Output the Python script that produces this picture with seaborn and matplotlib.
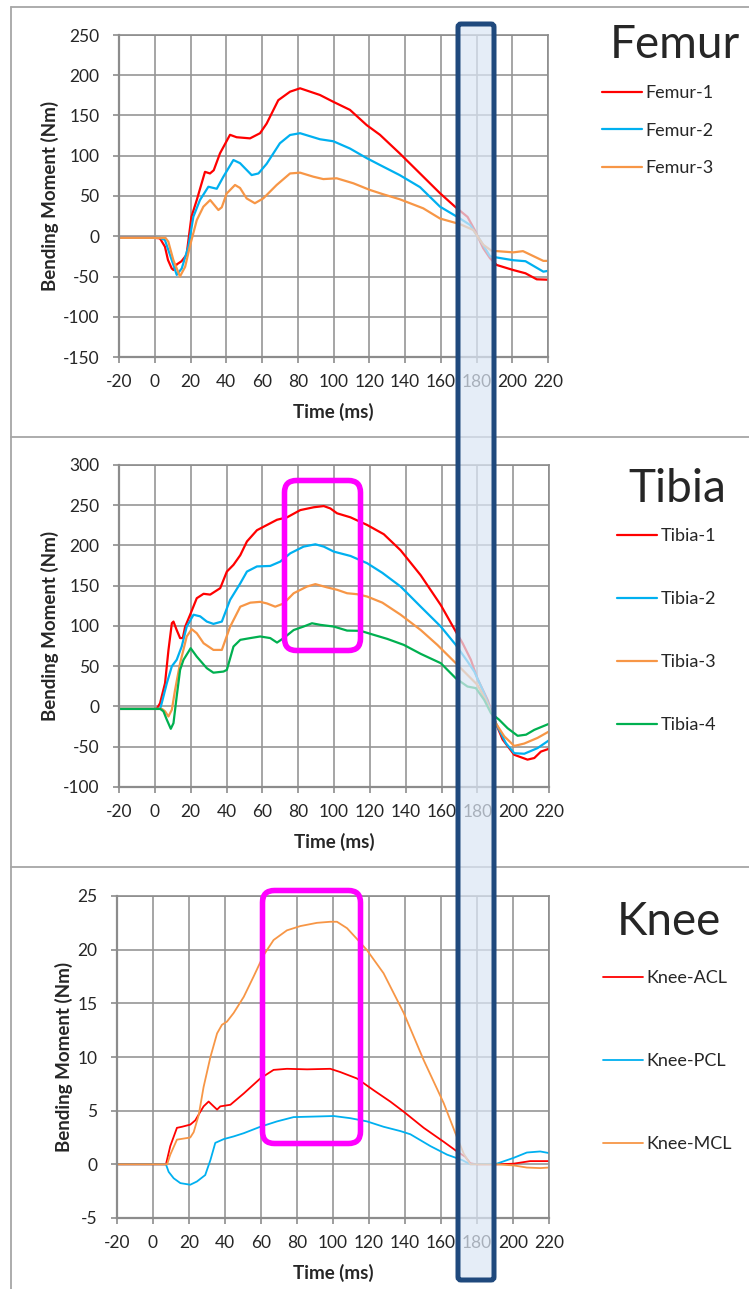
import matplotlib
matplotlib.use('Agg')
import matplotlib.pyplot as plt
import seaborn as sns
from matplotlib.patches import FancyBboxPatch
from matplotlib.lines import Line2D

# ---- data ----
femur_labels = ['Femur-1', 'Femur-2', 'Femur-3']
femur_t = [
    [-20, 0, 2.9, 5.7, 7.4, 9.5, 10.5, 12.3, 15, 17.8, 20.5, 23.5, 28.1, 30.9, 33, 36.5, 42.1, 45.8, 53.3, 58.9,
     62.6, 69.1, 75.7, 81.3, 92.4, 99.9, 109.2, 118.6, 126, 137, 148.4, 159.6, 168, 175, 179, 183.8, 187.6, 191.3,
     200.6, 207.4, 213.7, 220],
    [-20, 3, 5.7, 9.5, 12.3, 15.1, 18.8, 21.6, 25.3, 30, 34.7, 38.4, 44, 47.7, 54.2, 58, 62.6, 70, 75.7, 81.3, 92.4,
     99.9, 109.2, 118.6, 126, 137, 148.4, 159.6, 170.8, 176.4, 182, 187.6, 193, 200.6, 207.4, 217.4, 220],
    [-20, 6, 7.6, 10.4, 14.1, 17, 19.6, 23.5, 27.2, 31, 35.6, 37.5, 40.2, 44.9, 47.7, 51.4, 56, 60.7, 68.2, 75.7,
     81.3, 88.7, 94.3, 101.8, 111.1, 120.4, 128, 137, 150.2, 159.6, 170.8, 178.2, 183.8, 188.4, 200.6, 206, 217.4, 220],
]
femur_v = [
    [-2, -2, -2.6, -13, -29.5, -40, -42, -35, -31, -23, 24, 45, 80, 78, 82, 103, 126, 123, 121.6, 128,
     140, 169, 179.6, 183.8, 175.5, 167, 157, 138, 126, 103, 78, 53.4, 36.7, 24, 7.8, -15, -27.4, -35.7,
     -42, -46, -53.5, -54],
    [-2, -2, -4.7, -29.5, -48, -40, -13, 24.3, 45, 61.5, 59, 74, 94.7, 90.8, 76, 78, 90, 115.5, 125.8, 128, 120.5,
     118, 109, 97, 88.5, 76, 61, 36.7, 22, 14, -4.7, -25, -27, -29.8, -31, -44, -43],
    [-2, -2, -6.8, -29.5, -50, -38, -13, 20, 36.7, 45, 32.6, 36, 53, 63.7, 60, 47, 41, 47, 63.7, 78,
     79, 74, 71, 72, 65.8, 57.5, 52, 46, 34.7, 22, 15, 7.8, -10.6, -18, -20, -18.5, -30.6, -30.6],
]

tibia_labels = ['Tibia-1', 'Tibia-2', 'Tibia-3', 'Tibia-4']
tibia_t = [
    [-20, 1, 2.9, 5.7, 7.6, 9.5, 10.4, 12.2, 14.1, 15.6, 16.9, 19.7, 23.4, 27.2, 30.9, 36.5, 40.2, 43.9, 47.7, 51.4,
     57, 62.6, 68.2, 73.8, 81.2, 88.7, 94.3, 98, 101.7, 109.2, 118.5, 127.8, 137.2, 148.4, 159.6, 168, 171.8, 176.4,
     180, 185.7, 190.3, 194.1, 200.6, 208, 211.8, 215.5, 220],
    [-20, 3, 4.8, 6.7, 9.5, 12.2, 15, 17.8, 21.6, 25.3, 29, 32.7, 37.4, 42, 47.7, 51.4, 57, 64.4, 70, 75.6, 83, 89.6,
     94.3, 99.9, 109.2, 118.5, 127, 137.2, 148.4, 159.6, 168, 174.5, 178.3, 183.8, 190.3, 195.9, 200.6, 206.2,
     213.6, 220],
    [-20, 4, 5.7, 7.6, 9.5, 11.3, 14.1, 17.8, 20.6, 23.4, 27.2, 32.7, 37.4, 42, 47.7, 53.3, 58.8, 62.6, 67.2, 71.9,
     77.5, 84.9, 89.6, 96.1, 101.7, 107.3, 112.9, 118.5, 127, 137.2, 148.4, 157.7, 168, 175.5, 180, 184.7, 190.3,
     195, 200.6, 206.2, 213.6, 220],
    [-20, 3, 4.8, 6.7, 8.9, 10.4, 12.2, 14.1, 16, 20, 23.4, 29, 32.7, 38.3, 40.2, 43.9, 47.7, 53.3, 58.8, 64.4, 68.2,
     71.9, 77.5, 83, 87.7, 92.4, 99.9, 107.3, 114.8, 122.2, 129.7, 139, 148.4, 159.6, 168, 174.5, 179.2, 183.8,
     187.6, 192.2, 196.9, 202.5, 207.2, 211.8, 220],
]
tibia_v = [
    [-3, -3, 4, 29, 70, 103.5, 105.5, 95, 85, 85, 99, 114, 134.5, 140, 139, 147, 167.6, 176, 188, 205,
     219, 225.5, 232, 235, 244, 247.5, 249, 246, 240, 235, 225.5, 214, 194, 163, 126, 93, 78.6, 58,
     35, 8.3, -20.7, -41, -60, -66, -64, -56, -52.5],
    [-3, -3, 12.4, 29, 50, 58, 74.5, 99.3, 114, 112, 105.5, 102.6, 105.5, 132.4, 153, 167.6, 174, 174.6, 180, 190.3,
     198.6, 201.5, 198.6, 192.4, 187, 178, 166, 149, 124, 99.3, 76.5, 56, 43.4, 16.5, -20.7, -45.5, -58, -58.7,
     -51.7, -42],
    [-3, -3, -6, -12.4, -4, 20.7, 53.8, 87, 96, 91, 78.6, 70.3, 70.3, 99, 124, 129, 130, 128, 124, 128,
     140.7, 149, 152, 148, 145, 140.7, 139.5, 136.6, 129, 114, 95, 76.5, 53.8, 37, 27, 8.3, -20.7,
     -37, -49, -46, -39, -31],
    [-3, -3, -6, -16.5, -27.7, -20.7, 12.4, 45.5, 58, 72.4, 62, 47.6, 42, 43.4, 45.5, 74.5, 82.8, 85, 87, 85, 79.4,
     85, 95, 99.3, 103.4, 101.4, 99.3, 94.3, 94, 89, 84, 76.5, 65.4, 53.8, 35, 24.8, 22.8, 8.3,
     -8.3, -16.5, -27, -36.4, -35, -29, -21.5],
]

knee_labels = ['Knee-ACL', 'Knee-PCL', 'Knee-MCL']
knee_t = [
    [-20, 7.2, 9.6, 13.3, 16.1, 20.7, 23.5, 26.3, 28.1, 30.9, 33.7, 35.6, 37.4, 43, 50.4, 59.6, 67, 74.4, 85.6, 98.5,
     104, 113.3, 122.6, 131.8, 139.3, 150.4, 161.5, 168.9, 173.5, 176.3, 180, 191, 200.3, 209.5, 220],
    [-20, 7.2, 8.7, 11.5, 15.2, 20.7, 24.4, 29, 31.9, 34.6, 39.3, 44.8, 50.4, 59.6, 68.9, 78.1, 89.3, 100.4, 109.6,
     118.9, 128.1, 137.4, 143, 154.1, 163.4, 171.7, 176.3, 191, 200.3, 207.7, 215.1, 220],
    [-20, 7.8, 9.6, 13.3, 17, 20.7, 22.6, 25.4, 28.1, 31.9, 35.6, 38.3, 41.1, 44.8, 50.4, 55.9, 61.5, 67, 74.4, 81.9,
     91.1, 98.5, 102.2, 107.8, 113.3, 118.9, 128.1, 139.3, 150.4, 161.5, 168, 172.6, 176.3, 191, 200.3, 207.7,
     215.1, 220],
]
knee_v = [
    [0, 0, 1.7, 3.4, 3.5, 3.7, 4.1, 4.9, 5.4, 5.85, 5.4, 5.1, 5.4, 5.55, 6.6, 8.0, 8.8, 8.9, 8.85, 8.9,
     8.6, 8.0, 6.9, 5.85, 4.9, 3.4, 2.1, 1.2, 0.7, 0.1, 0, 0, 0.06, 0.3, 0.3],
    [0, 0, -0.7, -1.3, -1.75, -1.9, -1.6, -1.0, 0.4, 2.0, 2.35, 2.6, 2.9, 3.5, 4.0, 4.4, 4.45, 4.5, 4.3,
     4.0, 3.5, 3.1, 2.8, 1.7, 0.9, 0.4, 0, 0.06, 0.6, 1.1, 1.2, 1.05],
    [0, 0, 0.9, 2.3, 2.4, 2.5, 3.0, 4.6, 7.2, 10.0, 12.2, 13.0, 13.3, 14.1, 15.6, 17.5, 19.5, 20.9, 21.8, 22.2,
     22.5, 22.6, 22.6, 22.0, 21.0, 19.95, 17.8, 14.1, 9.7, 5.7, 2.9, 1.0, 0, 0, -0.1, -0.3, -0.35, -0.3],
]

colors = ['#ff0000', '#00b0f0', '#f79646', '#00b050']
x_ticks = list(range(-20, 221, 20))

sns.set_style('white')
plt.rcParams['font.family'] = ['Lato', 'DejaVu Sans']
plt.rcParams['axes.unicode_minus'] = False

W, H = 749, 1289
fig = plt.figure(figsize=(W / 100, H / 100), dpi=100)


def frac(x0, y0, x1, y1):
    # pixel box (top-left origin) -> figure fraction [l, b, w, h]
    return [x0 / W, 1 - y1 / H, (x1 - x0) / W, (y1 - y0) / H]


def draw_panel(rect, ts, vs, labels, ylim, ystep, lw, title, title_xy, leg_xy, leg_space):
    ax = fig.add_axes(rect)
    for i, (t, v, lab) in enumerate(zip(ts, vs, labels)):
        sns.lineplot(x=t, y=v, color=colors[i], linewidth=lw, label=lab, ax=ax, sort=False)
    ax.set_xlim(-20, 220)
    ax.set_ylim(*ylim)
    ax.set_xticks(x_ticks)
    ax.set_yticks(list(range(ylim[0], ylim[1] + 1, ystep)))
    ax.grid(True, color='#969696', linewidth=1.2)
    for s in ax.spines.values():
        s.set_color('#8c8c8c')
        s.set_linewidth(1.2)
    ax.spines['left'].set_linewidth(1.6)
    ax.spines['bottom'].set_linewidth(1.6)
    ax.tick_params(axis='both', direction='out', length=4, width=1.2, color='#8c8c8c',
                   labelsize=12.5, left=True, bottom=True)
    ax.tick_params(axis='x', pad=8.5)
    ax.tick_params(axis='y', pad=10)
    ax.set_xlabel('Time (ms)', fontsize=13.5, fontweight='bold', labelpad=9)
    ax.set_ylabel('Bending Moment (Nm)', fontsize=13.5, fontweight='bold', labelpad=3)
    ax.legend(loc='upper left', bbox_to_anchor=(leg_xy[0] / W, 1 - leg_xy[1] / H),
              bbox_transform=fig.transFigure, frameon=False, fontsize=13,
              handlelength=2.2, handletextpad=0.2, borderpad=0, borderaxespad=0,
              labelspacing=leg_space)
    fig.text(title_xy[0] / W, 1 - title_xy[1] / H, title, fontsize=33,
             ha='left', va='baseline')
    return ax


draw_panel(frac(119, 35, 548, 357), femur_t, femur_v, femur_labels, (-150, 250), 50, 1.6,
           'Femur', (610, 58), (602, 85), 1.2)
draw_panel(frac(119, 465, 549, 787), tibia_t, tibia_v, tibia_labels, (-100, 300), 50, 1.6,
           'Tibia', (628, 502), (617, 528), 2.6)
draw_panel(frac(117, 896, 549, 1218), knee_t, knee_v, knee_labels, (-5, 25), 5, 1.3,
           'Knee', (617, 935), (603, 970), 3.72)

# panel frames
frame_kw = dict(color='#a6a6a6', linewidth=1.3, transform=fig.transFigure)
fig.add_artist(Line2D([11 / W, 11 / W], [1 - 7 / H, 0], **frame_kw))
for yy in (7, 437, 867):
    fig.add_artist(Line2D([11 / W, 1], [1 - yy / H, 1 - yy / H], **frame_kw))

# highlight boxes (inches, origin bottom-left)
inch = fig.dpi_scale_trans
fig.add_artist(FancyBboxPatch((2.845, (H - 650.5) / 100), 0.76, 1.70,
                              boxstyle='round,pad=0,rounding_size=0.12',
                              facecolor='none', edgecolor='#ff00ff', linewidth=4.0,
                              transform=inch, zorder=10))
fig.add_artist(FancyBboxPatch((2.625, (H - 1143.5) / 100), 0.98, 2.53,
                              boxstyle='round,pad=0,rounding_size=0.12',
                              facecolor='none', edgecolor='#ff00ff', linewidth=4.0,
                              transform=inch, zorder=10))
fig.add_artist(FancyBboxPatch((4.58, (H - 1280) / 100), 0.36, 12.56,
                              boxstyle='round,pad=0,rounding_size=0.03',
                              facecolor=(0.86, 0.9, 0.96, 0.72), edgecolor='#1f497d',
                              linewidth=3.6, transform=inch, zorder=11))

fig.savefig('out.png', dpi=100)
